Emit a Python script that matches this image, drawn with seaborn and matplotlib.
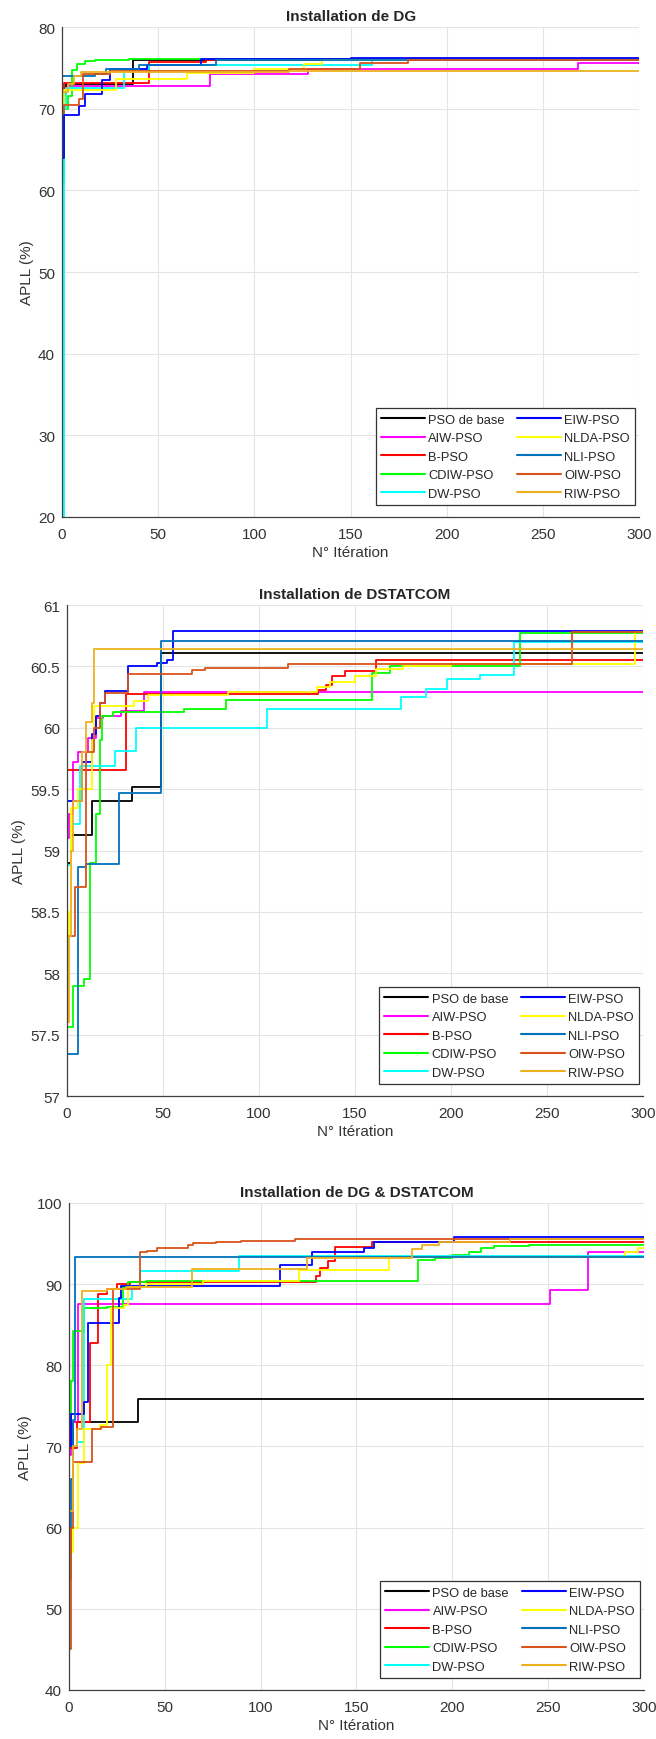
import matplotlib
matplotlib.use("Agg")
import matplotlib.pyplot as plt
import numpy as np
import pandas as pd
import seaborn as sns

N_ITER = 300

methods = ["PSO de base", "AIW-PSO", "B-PSO", "CDIW-PSO", "DW-PSO",
           "EIW-PSO", "NLDA-PSO", "NLI-PSO", "OIW-PSO", "RIW-PSO"]
colors = ["#000000", "#ff00ff", "#ff0000", "#00ff00", "#00ffff",
          "#0000ff", "#ffff00", "#0072bd", "#d95319", "#edb120"]

titles = ["Installation de DG", "Installation de DSTATCOM",
          "Installation de DG & DSTATCOM"]

# best-so-far curves, (iteration, value) at every step change
dg_steps = {
    "PSO de base": [(0, 71.8), (2, 73.0), (37, 75.9), (65, 76.0)],
    "AIW-PSO": [(0, 70.0), (1, 72.3), (3, 72.8), (77, 74.3), (128, 74.8), (268, 75.6)],
    "B-PSO": [(0, 71.0), (1, 73.2), (45, 75.7), (75, 76.0)],
    "CDIW-PSO": [(0, 61.0), (1, 70.0), (3, 71.5), (5, 74.7), (8, 75.5), (12, 75.8),
                 (17, 75.95), (35, 76.05)],
    "DW-PSO": [(0, 20.0), (1, 70.0), (2, 72.5), (32, 74.8), (45, 75.3), (161, 76.0)],
    "EIW-PSO": [(0, 64.0), (1, 69.2), (9, 70.3), (12, 71.8), (21, 73.5), (25, 74.9),
                (44, 75.4), (72, 76.1), (150, 76.2)],
    "NLDA-PSO": [(0, 70.0), (1, 72.3), (28, 73.6), (65, 74.4), (100, 74.8),
                 (126, 75.5), (135, 76.0)],
    "NLI-PSO": [(0, 74.0), (17, 74.2), (23, 74.8), (40, 75.3), (80, 75.9)],
    "OIW-PSO": [(0, 69.5), (1, 70.5), (9, 71.2), (11, 74.3), (25, 74.6), (118, 74.9),
                (155, 75.6), (180, 76.0)],
    "RIW-PSO": [(0, 72.0), (3, 73.0), (6, 74.0), (10, 74.5), (118, 74.6)],
}

dstatcom_steps = {
    "PSO de base": [(0, 58.9), (2, 59.13), (13, 59.4), (34, 59.52), (49, 60.61)],
    "AIW-PSO": [(0, 59.1), (1, 59.3), (3, 59.72), (6, 59.8), (11, 59.92), (15, 60.08),
                (19, 60.1), (28, 60.14), (40, 60.29)],
    "B-PSO": [(0, 59.66), (31, 60.275), (131, 60.31), (135, 60.35), (138, 60.42),
              (145, 60.46), (161, 60.55)],
    "CDIW-PSO": [(0, 57.56), (3, 57.9), (9, 57.95), (12, 58.9), (15, 59.3), (17, 59.9),
                 (18, 60.1), (24, 60.13), (61, 60.15), (83, 60.23), (159, 60.45),
                 (168, 60.5), (236, 60.77)],
    "DW-PSO": [(0, 58.88), (2, 59.22), (7, 59.69), (25, 59.81), (36, 60.0),
               (104, 60.15), (174, 60.25), (187, 60.32), (198, 60.4), (215, 60.43),
               (233, 60.7)],
    "EIW-PSO": [(0, 59.4), (8, 59.72), (13, 59.95), (15, 60.1), (17, 60.2), (20, 60.3),
                (32, 60.5), (47, 60.53), (52, 60.55), (55, 60.79)],
    "NLDA-PSO": [(0, 57.6), (1, 58.5), (2, 59.35), (6, 59.5), (13, 59.9), (14, 60.18),
                 (35, 60.22), (42, 60.27), (84, 60.29), (130, 60.33), (137, 60.37),
                 (150, 60.42), (161, 60.48), (175, 60.5), (200, 60.52), (296, 60.78)],
    "NLI-PSO": [(0, 57.34), (6, 58.87), (10, 58.89), (27, 59.47), (49, 60.71)],
    "OIW-PSO": [(0, 58.3), (4, 58.7), (10, 59.8), (14, 60.0), (17, 60.2), (20, 60.28),
                (32, 60.44), (65, 60.47), (72, 60.49), (115, 60.52), (263, 60.78)],
    "RIW-PSO": [(0, 57.6), (1, 58.3), (2, 59.0), (3, 59.4), (8, 59.8), (10, 60.05),
                (13, 60.2), (14, 60.64)],
}

both_steps = {
    "PSO de base": [(0, 70.0), (2, 73.06), (36, 75.85)],
    "AIW-PSO": [(0, 69.0), (1, 73.0), (5, 87.5), (251, 89.3), (271, 94.0)],
    "B-PSO": [(0, 69.8), (4, 73.0), (11, 82.7), (15, 88.8), (20, 89.4), (25, 90.0),
              (32, 90.3), (129, 91.0), (131, 92.0), (135, 92.9), (139, 94.6),
              (158, 95.2)],
    "CDIW-PSO": [(0, 73.0), (1, 78.0), (2, 84.2), (8, 87.0), (20, 87.2), (28, 89.6),
                 (31, 90.2), (40, 90.4), (182, 93.0), (191, 93.2), (200, 93.6),
                 (209, 94.0), (215, 94.4), (222, 94.7), (240, 94.8)],
    "DW-PSO": [(0, 70.0), (4, 70.5), (8, 88.2), (33, 89.5), (37, 91.6), (89, 93.4)],
    "EIW-PSO": [(0, 70.0), (1, 74.0), (8, 75.5), (10, 85.2), (26, 88.3), (27, 89.8),
                (110, 92.3), (127, 93.9), (154, 94.4), (159, 95.2), (201, 95.8)],
    "NLDA-PSO": [(0, 57.0), (2, 60.0), (5, 68.0), (8, 72.2), (16, 72.6), (20, 80.0),
                 (22, 87.0), (29, 87.4), (31, 89.6), (40, 90.0), (70, 90.4),
                 (120, 91.75), (167, 93.3), (290, 94.0), (297, 94.5)],
    "NLI-PSO": [(0, 53.7), (1, 66.0), (2, 73.2), (3, 93.3)],
    "OIW-PSO": [(0, 45.0), (1, 60.0), (2, 68.1), (12, 72.2), (17, 72.4), (23, 89.4),
                (37, 93.9), (41, 94.1), (46, 94.4), (62, 94.8), (65, 95.0), (77, 95.2),
                (90, 95.35), (118, 95.56)],
    "RIW-PSO": [(0, 62.0), (2, 70.0), (4, 72.2), (7, 89.2), (20, 89.4), (30, 89.6),
                (64, 91.9), (124, 93.2), (179, 94.3), (184, 94.8), (193, 95.2),
                (230, 95.5)],
}

y_limits = [(20, 80), (57, 61), (40, 100)]
y_steps = [10, 0.5, 10]
x_ticks = [0, 50, 100, 150, 200, 250, 300]


def to_frame(steps):
    rows = []
    for m in methods:
        pts = steps[m] + [(N_ITER, steps[m][-1][1])]
        for it, v in pts:
            rows.append({"iter": it, "value": v, "method": m})
    return pd.DataFrame(rows)


sns.set_style("white")
plt.rcParams["font.family"] = ["Liberation Sans", "DejaVu Sans"]

fig = plt.figure(figsize=(6.56, 17.4), dpi=100)
boxes = [[0.0945, 0.7023, 0.880, 0.2816],
         [0.1021, 0.3695, 0.878, 0.2822],
         [0.1050, 0.0282, 0.8765, 0.2799]]

axis_col = "#404040"
palette = dict(zip(methods, colors))

for k, steps in enumerate([dg_steps, dstatcom_steps, both_steps]):
    ax = fig.add_axes(boxes[k])
    df = to_frame(steps)
    sns.lineplot(data=df, x="iter", y="value", hue="method", hue_order=methods,
                 palette=palette, estimator=None, sort=False, drawstyle="steps-post",
                 linewidth=1.3, ax=ax)
    lo, hi = y_limits[k]
    ax.set_xlim(0, N_ITER)
    ax.set_ylim(lo, hi)
    ax.set_xticks(x_ticks)
    yt = np.arange(lo, hi + 1e-9, y_steps[k])
    ax.set_yticks(yt)
    ax.set_yticklabels([f"{t:g}" for t in yt])
    ax.grid(True, color="#e4e4e4", linewidth=0.8)
    for s in ["top", "right"]:
        ax.spines[s].set_visible(False)
    for s in ["left", "bottom"]:
        ax.spines[s].set_color(axis_col)
        ax.spines[s].set_linewidth(0.9)
    ax.tick_params(direction="in", length=4, width=0.8, color=axis_col,
                   labelcolor="#333333", labelsize=11)
    ax.tick_params(axis="x", pad=7)
    ax.tick_params(axis="y", pad=5)
    ax.set_xlabel("N° Itération", fontsize=11, color="#333333", labelpad=3)
    ax.set_ylabel("APLL (%)", fontsize=11, color="#333333", labelpad=3)
    ax.set_title(titles[k], fontsize=11, fontweight="bold", pad=5)

    handles, labels = ax.get_legend_handles_labels()
    leg = ax.legend(handles, labels, ncol=2, loc="lower right",
                    bbox_to_anchor=(0.993, 0.025), borderaxespad=0, fontsize=9.3,
                    frameon=True, fancybox=False, framealpha=1, edgecolor="#333333",
                    handlelength=3.4, handletextpad=0.25, columnspacing=1.0,
                    labelspacing=0.5, borderpad=0.4)
    leg.get_frame().set_linewidth(0.9)
    for line in leg.get_lines():
        line.set_linewidth(1.5)

fig.savefig("out.png", dpi=100, facecolor="white")
